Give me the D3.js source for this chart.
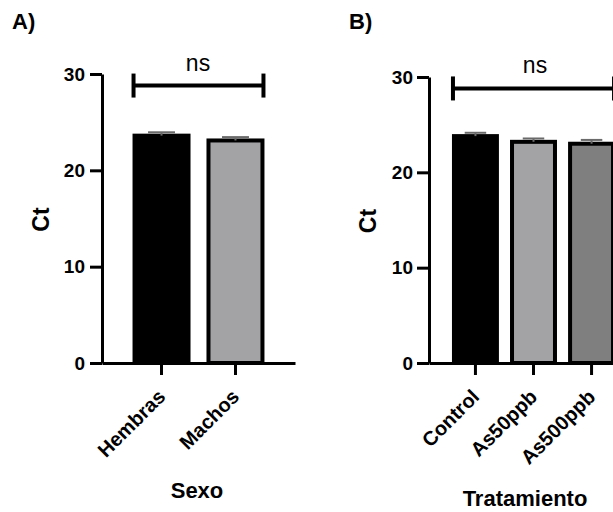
<!DOCTYPE html>
<html>
<head>
<meta charset="utf-8">
<script src="https://cdn.jsdelivr.net/npm/d3@7"></script>
<style>
  html, body { margin: 0; padding: 0; background: #fff; }
  svg { display: block; font-family: 'Liberation Sans', Arial, sans-serif; }
</style>
</head>
<body>
<svg class="canvas" width="613" height="512"></svg>
<script>
'use strict';

// Data (mean Ct, SEM).
const sexoCats = ['Hembras', 'Machos'],
  sexoCt = [23.6, 23.1],
  sexoErr = [0.35, 0.35];
const tratCats = ['Control', 'As50ppb', 'As500ppb'],
  tratCt = [23.8, 23.2, 23.0],
  tratErr = [0.35, 0.35, 0.4];
const yTicks = [0, 10, 20, 30],
  sigLevel = 28.8;

const svg = d3.select('.canvas');

function drawPanel(cfg) {
  const g = svg.append('g'),
    y = d3.scaleLinear([0, 30], [cfg.y0, cfg.y30]),
    x = d3
      .scaleBand(cfg.cats, [cfg.axisX, cfg.xEnd])
      .paddingInner(cfg.padIn)
      .paddingOuter(cfg.padOut),
    bw = x.bandwidth();

  // panel letter
  g.append('text')
    .attr('x', cfg.letterX)
    .attr('y', 29)
    .attr('font-size', 22)
    .attr('font-weight', 'bold')
    .text(cfg.letter);

  // bars
  g.selectAll('rect.bar')
    .data(cfg.cats)
    .join('rect')
    .attr('class', 'bar')
    .attr('x', d => x(d))
    .attr('width', bw)
    .attr('y', (d, i) => y(cfg.vals[i]))
    .attr('height', (d, i) => y(0) - y(cfg.vals[i]))
    .attr('fill', (d, i) => cfg.fills[i])
    .attr('stroke', '#000')
    .attr('stroke-width', 4);

  // error bars (upper half only)
  const eb = g
    .selectAll('g.err')
    .data(cfg.cats)
    .join('g')
    .attr('class', 'err')
    .attr('stroke', '#6a6a6a')
    .attr('stroke-width', 2);
  eb.append('line')
    .attr('x1', d => x(d) + bw / 2)
    .attr('x2', d => x(d) + bw / 2)
    .attr('y1', (d, i) => y(cfg.vals[i]))
    .attr('y2', (d, i) => y(cfg.vals[i] + cfg.errs[i]));
  eb.append('line')
    .attr('x1', d => x(d) + bw / 4)
    .attr('x2', d => x(d) + (bw * 3) / 4)
    .attr('y1', (d, i) => y(cfg.vals[i] + cfg.errs[i]))
    .attr('y2', (d, i) => y(cfg.vals[i] + cfg.errs[i]));

  // y axis
  const yAxis = g
    .append('g')
    .attr('transform', `translate(${cfg.axisX},0)`)
    .call(
      d3
        .axisLeft(y)
        .tickValues(yTicks)
        .tickSize(12)
        .tickSizeOuter(0)
        .tickPadding(cfg.tickPad)
    );
  yAxis.selectAll('path, line').attr('stroke', '#000').attr('stroke-width', 3);
  yAxis
    .selectAll('text')
    .attr('font-size', 19)
    .attr('font-weight', 'bold')
    .attr('font-family', "'Liberation Sans', Arial, sans-serif")
    .attr('fill', '#000');

  // x axis
  const xAxis = g
    .append('g')
    .attr('transform', `translate(0,${y(0)})`)
    .call(d3.axisBottom(x).tickSize(12).tickSizeOuter(0).tickFormat(''));
  xAxis.selectAll('path, line').attr('stroke', '#000').attr('stroke-width', 3);

  // rotated category labels
  g.selectAll('text.cat')
    .data(cfg.cats)
    .join('text')
    .attr('class', 'cat')
    .attr('text-anchor', 'end')
    .attr('font-size', 20)
    .attr('font-weight', 'bold')
    .attr(
      'transform',
      d => `translate(${x(d) + bw / 2 + 5},${y(0) + 35}) rotate(-45)`
    )
    .text(d => d);

  // axis titles
  g.append('text')
    .attr('text-anchor', 'middle')
    .attr('font-size', 22)
    .attr('font-weight', 'bold')
    .attr('x', cfg.titleX)
    .attr('y', cfg.titleY)
    .text(cfg.title);
  g.append('text')
    .attr('text-anchor', 'middle')
    .attr('font-size', 23)
    .attr('font-weight', 'bold')
    .attr('transform', `translate(${cfg.axisX - 53},${(y(0) + y(30)) / 2 + 1}) rotate(-90)`)
    .text('Ct');

  // significance bracket
  const sx1 = x(cfg.cats[0]) - 1,
    sx2 = x(cfg.cats[cfg.cats.length - 1]) + bw + 1,
    sy = y(sigLevel);
  const sig = g.append('g').attr('stroke', '#000').attr('stroke-width', 4);
  sig.append('line').attr('x1', sx1).attr('x2', sx2).attr('y1', sy).attr('y2', sy);
  [sx1, sx2].forEach(sx =>
    sig.append('line').attr('x1', sx).attr('x2', sx).attr('y1', sy - 12).attr('y2', sy + 12)
  );
  g.append('text')
    .attr('text-anchor', 'middle')
    .attr('font-size', 23)
    .attr('x', cfg.nsX)
    .attr('y', sy - 15)
    .text('ns');
}

drawPanel({
  letter: 'A)',
  letterX: 12,
  cats: sexoCats,
  vals: sexoCt,
  errs: sexoErr,
  fills: ['#000', '#a3a3a6'],
  axisX: 102,
  xEnd: 295,
  padIn: 0.27,
  padOut: 0.44,
  y0: 363,
  y30: 74,
  tickPad: 5,
  title: 'Sexo',
  titleX: 197,
  titleY: 498,
  nsX: 198,
});

drawPanel({
  letter: 'B)',
  letterX: 349,
  cats: tratCats,
  vals: tratCt,
  errs: tratErr,
  fills: ['#000', '#a3a3a6', '#7f7f7f'],
  axisX: 429,
  xEnd: 638,
  padIn: 0.26,
  padOut: 0.43,
  y0: 363,
  y30: 77,
  tickPad: 4,
  title: 'Tratamiento',
  titleX: 525,
  titleY: 506,
  nsX: 535,
});
</script>
</body>
</html>
